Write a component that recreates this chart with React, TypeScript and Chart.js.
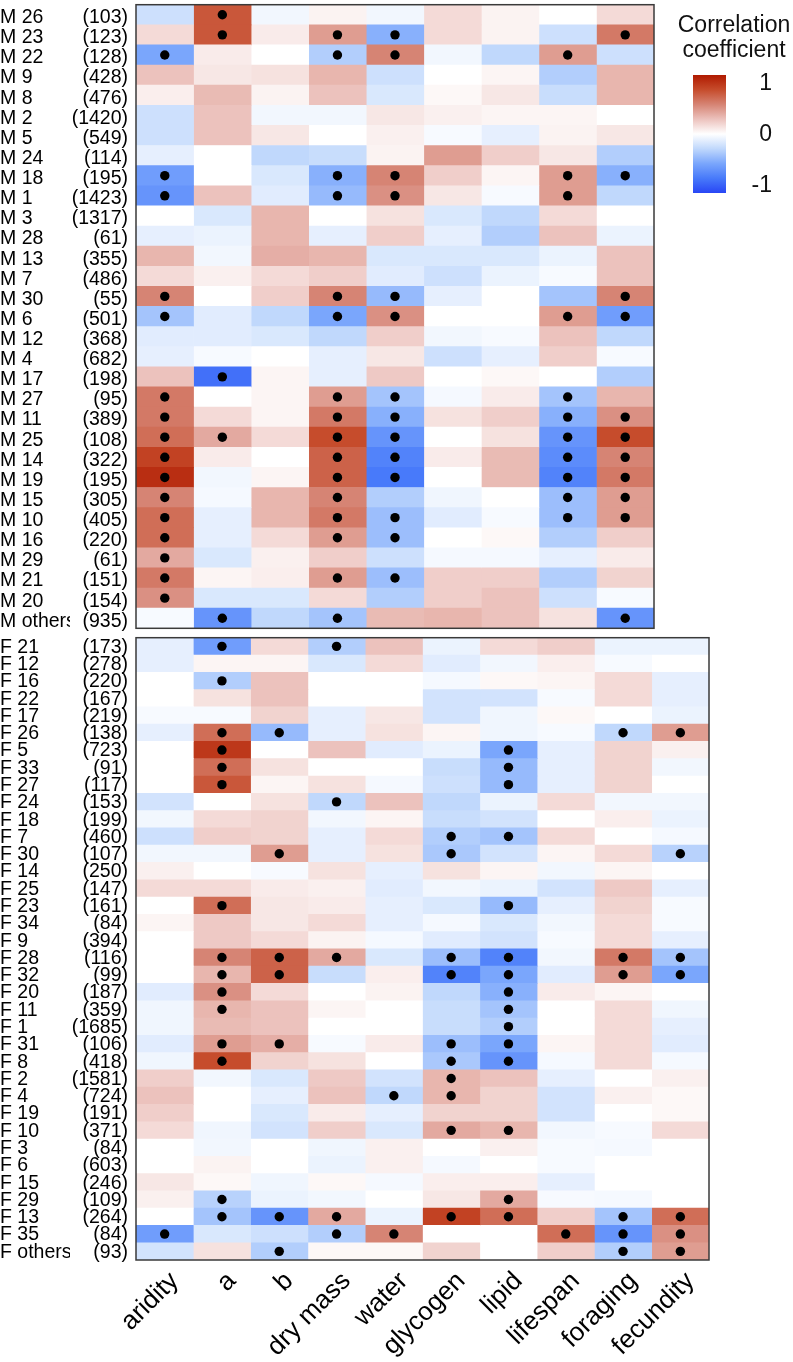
import React, { useEffect, useRef } from "react";
import { Chart, registerables } from "chart.js";

Chart.register(...registerables);

// ---------------- data ----------------
const M_COLUMNS = ["aridity", "a", "b", "dry mass", "water", "glycogen", "lipid", "lifespan", "foraging"];
const F_COLUMNS = ["aridity", "a", "b", "dry mass", "water", "glycogen", "lipid", "lifespan", "foraging", "fecundity"];

const M_NAMES = [
  "M 26", "M 23", "M 22", "M 9", "M 8", "M 2", "M 5", "M 24", "M 18", "M 1", "M 3",
  "M 28", "M 13", "M 7", "M 30", "M 6", "M 12", "M 4", "M 17", "M 27", "M 11", "M 25",
  "M 14", "M 19", "M 15", "M 10", "M 16", "M 29", "M 21", "M 20", "M others",
];
const M_COUNTS = [
  103, 123, 128, 428, 476, 1420, 549, 114, 195, 1423, 1317,
  61, 355, 486, 55, 501, 368, 682, 198, 95, 389, 108,
  322, 195, 305, 405, 220, 61, 151, 154, 935,
];
// rows follow M_NAMES, columns follow M_COLUMNS
const M_VALUES = [
  [-0.2, 0.7, -0.05, 0.05, -0.05, 0.15, 0.05, 0, 0.15],
  [0.15, 0.7, 0.08, 0.4, -0.45, 0.15, 0.05, -0.2, 0.55],
  [-0.5, 0.08, 0, -0.3, 0.5, -0.05, -0.25, 0.4, -0.2],
  [0.25, 0.1, 0.12, 0.3, -0.2, 0, 0.04, -0.3, 0.3],
  [0.07, 0.28, 0.05, 0.25, -0.15, 0.03, 0.1, -0.22, 0.3],
  [-0.2, 0.25, -0.05, -0.05, 0.1, 0.06, 0.04, 0.04, 0],
  [-0.2, 0.25, 0.1, 0, 0.06, -0.03, -0.1, 0.05, 0.1],
  [-0.1, 0, -0.25, -0.22, 0.05, 0.4, 0.2, 0.1, -0.3],
  [-0.55, 0, -0.15, -0.45, 0.5, 0.2, 0.04, 0.4, -0.45],
  [-0.6, 0.25, -0.12, -0.4, 0.45, 0.1, -0.03, 0.4, -0.25],
  [0, -0.15, 0.3, 0, 0.12, -0.15, -0.25, 0.15, 0],
  [-0.1, -0.08, 0.3, -0.1, 0.2, -0.1, -0.3, 0.25, -0.08],
  [0.3, -0.05, 0.33, 0.3, -0.15, -0.15, -0.15, -0.08, 0.25],
  [0.15, 0.06, 0.15, 0.2, -0.12, -0.2, -0.08, -0.03, 0.25],
  [0.5, 0, 0.2, 0.5, -0.4, -0.1, 0, -0.35, 0.5],
  [-0.35, -0.12, -0.25, -0.5, 0.45, 0, 0, 0.4, -0.55],
  [-0.12, -0.12, -0.15, -0.25, 0.2, -0.05, -0.03, 0.25, -0.25],
  [-0.1, -0.03, 0, -0.1, 0.1, -0.2, -0.1, 0.2, -0.03],
  [0.25, -0.8, 0.04, -0.1, 0.22, 0, 0.03, 0, -0.3],
  [0.55, 0, 0.04, 0.4, -0.35, -0.04, 0.08, -0.35, 0.3],
  [0.55, 0.15, 0.04, 0.55, -0.45, 0.12, 0.2, -0.45, 0.45],
  [0.6, 0.35, 0.15, 0.75, -0.6, 0, 0.12, -0.6, 0.75],
  [0.8, 0.08, 0, 0.65, -0.7, 0.08, 0.28, -0.65, 0.5],
  [0.9, -0.05, 0.04, 0.65, -0.75, 0, 0.28, -0.7, 0.55],
  [0.5, -0.04, 0.3, 0.5, -0.3, -0.06, 0, -0.38, 0.4],
  [0.6, -0.1, 0.3, 0.55, -0.38, -0.12, -0.03, -0.38, 0.4],
  [0.6, -0.1, 0.15, 0.4, -0.38, 0, 0.03, -0.3, 0.2],
  [0.35, -0.15, 0.06, 0.2, -0.2, -0.04, -0.04, -0.1, 0.08],
  [0.55, 0.04, 0.07, 0.4, -0.38, 0.2, 0.2, -0.3, 0.18],
  [0.45, -0.15, -0.15, 0.15, -0.3, 0.2, 0.25, -0.2, -0.03],
  [-0.03, -0.6, -0.25, -0.35, 0.28, 0.3, 0.25, 0.12, -0.6],
];
// significant cells: column indices per row
const M_SIG = [
  [1], [1, 3, 4, 8], [0, 3, 4, 7], [], [], [], [], [], [0, 3, 4, 7, 8], [0, 3, 4, 7], [],
  [], [], [], [0, 3, 4, 8], [0, 3, 4, 7, 8], [], [], [1], [0, 3, 4, 7], [0, 3, 4, 7, 8], [0, 1, 3, 4, 7, 8],
  [0, 3, 4, 7, 8], [0, 3, 4, 7, 8], [0, 3, 7, 8], [0, 3, 4, 7, 8], [0, 3, 4], [0], [0, 3, 4], [0], [1, 3, 8],
];

const F_NAMES = [
  "F 21", "F 12", "F 16", "F 22", "F 17", "F 26", "F 5", "F 33", "F 27", "F 24", "F 18", "F 7",
  "F 30", "F 14", "F 25", "F 23", "F 34", "F 9", "F 28", "F 32", "F 20", "F 11", "F 1", "F 31",
  "F 8", "F 2", "F 4", "F 19", "F 10", "F 3", "F 6", "F 15", "F 29", "F 13", "F 35", "F others",
];
const F_COUNTS = [
  173, 278, 220, 167, 219, 138, 723, 91, 117, 153, 199, 460,
  107, 250, 147, 161, 84, 394, 116, 99, 187, 359, 1685, 106,
  418, 1581, 724, 191, 371, 84, 603, 246, 109, 264, 84, 93,
];
// rows follow F_NAMES, columns follow F_COLUMNS
const F_VALUES = [
  [-0.1, -0.55, 0.15, -0.3, 0.25, -0.08, 0.15, 0.2, -0.08, -0.08],
  [-0.1, 0.04, 0.04, -0.15, 0.15, -0.12, -0.05, 0.07, -0.03, 0],
  [0, -0.3, 0.25, 0, 0, -0.04, 0.03, 0.04, 0.15, -0.1],
  [0, 0.12, 0.25, 0, 0, -0.18, -0.18, -0.03, 0.15, -0.1],
  [-0.03, -0.03, 0.18, -0.1, 0.1, -0.18, -0.06, 0.03, 0, -0.08],
  [-0.1, 0.6, -0.4, -0.1, 0.12, 0.04, -0.06, -0.03, -0.25, 0.4],
  [0, 0.85, 0, 0.25, -0.12, -0.08, -0.5, -0.1, 0.18, 0.06],
  [0, 0.6, 0.12, 0, 0, -0.22, -0.4, -0.1, 0.18, -0.05],
  [0, 0.7, 0.04, 0.12, -0.04, -0.2, -0.4, -0.1, 0.18, 0],
  [-0.18, 0, 0.12, -0.25, 0.25, -0.25, -0.08, 0.15, -0.05, -0.05],
  [-0.05, 0.15, 0.18, -0.05, 0.04, -0.22, -0.18, 0, 0.07, -0.08],
  [-0.2, 0.2, 0.18, -0.1, 0.15, -0.3, -0.35, 0.15, 0, -0.04],
  [-0.05, -0.05, 0.4, -0.1, 0.12, -0.33, -0.18, 0.04, 0.15, -0.28],
  [0.06, 0, -0.03, 0.12, -0.1, 0.12, 0.04, -0.05, 0.04, 0],
  [0.15, 0.15, 0.08, 0.06, -0.12, -0.05, -0.08, -0.18, 0.22, -0.1],
  [0, 0.6, 0.1, 0.08, -0.1, -0.15, -0.4, -0.1, 0.18, -0.03],
  [0.04, 0.22, 0.1, 0.15, -0.1, -0.04, -0.15, -0.05, 0.15, -0.03],
  [0, 0.22, 0.15, 0.05, -0.04, -0.12, -0.18, -0.03, 0.15, -0.1],
  [0, 0.5, 0.65, 0.35, -0.15, -0.38, -0.7, -0.05, 0.55, -0.35],
  [0, 0.3, 0.65, -0.22, 0.07, -0.7, -0.5, -0.12, 0.4, -0.5],
  [-0.12, 0.45, 0.15, 0, 0.05, -0.25, -0.45, 0.08, 0.04, 0],
  [-0.06, 0.3, 0.25, 0.04, 0, -0.22, -0.35, 0, 0.15, -0.06],
  [-0.06, 0.28, 0.25, 0, 0, -0.22, -0.3, 0, 0.15, -0.1],
  [-0.12, 0.4, 0.33, -0.03, 0.08, -0.38, -0.5, 0.04, 0.15, -0.12],
  [-0.06, 0.75, 0.18, 0.12, 0, -0.33, -0.6, -0.04, 0.15, -0.04],
  [0.2, -0.05, -0.15, 0.22, -0.18, 0.3, 0.25, -0.1, 0, 0.06],
  [0.25, 0, -0.1, 0.25, -0.25, 0.3, 0.18, -0.18, 0.06, 0.03],
  [0.2, 0, -0.15, 0.08, -0.1, 0.18, 0.18, -0.18, 0, 0.03],
  [0.15, -0.06, -0.18, 0.2, -0.15, 0.35, 0.3, -0.05, -0.03, 0.15],
  [0, -0.05, 0, -0.06, 0.06, 0, 0.06, -0.03, -0.04, 0],
  [0, 0.05, 0, -0.08, 0.06, -0.04, 0, -0.03, 0, 0],
  [0.1, 0.03, -0.06, 0.03, -0.04, 0.07, 0.07, -0.1, 0, 0],
  [0.06, -0.28, -0.08, -0.05, 0, 0.1, 0.35, -0.03, -0.04, 0],
  [0, -0.35, -0.6, 0.35, -0.08, 0.8, 0.6, 0.2, -0.35, 0.6],
  [-0.55, -0.15, -0.2, -0.3, 0.5, 0, 0, 0.6, -0.6, 0.45],
  [-0.18, 0.12, -0.3, 0.03, 0.03, 0.18, 0, 0.2, -0.3, 0.4],
];
const F_SIG = [
  [1, 3], [], [1], [], [], [1, 2, 8, 9], [1, 6], [1, 6], [1, 6], [3], [], [5, 6],
  [2, 5, 9], [], [], [1, 6], [], [], [1, 2, 3, 5, 6, 8, 9], [1, 2, 5, 6, 8, 9], [1, 6], [1, 6], [6], [1, 2, 5, 6],
  [1, 5, 6], [5], [4, 5], [], [5, 6], [], [], [], [1, 6], [1, 2, 3, 5, 6, 8, 9], [0, 3, 4, 7, 8, 9], [2, 8, 9],
];

const LEGEND_TITLE = ["Correlation", "coefficient"];
const LEGEND_TICKS = [1, 0, -1];

// diverging colour scale (value -> rgb)
const COLOR_STOPS: [number, number[]][] = [
  [-1, [40, 70, 245]],
  [-0.75, [72, 122, 250]],
  [-0.5, [122, 166, 252]],
  [-0.25, [192, 216, 252]],
  [0, [255, 255, 255]],
  [0.25, [236, 194, 189]],
  [0.5, [214, 132, 116]],
  [0.75, [198, 76, 44]],
  [1, [176, 26, 0]],
];

const FONT = '"Liberation Sans", Arial, Helvetica, sans-serif';

function colorFor(v: number): string {
  const t = Math.max(-1, Math.min(1, v));
  for (let i = 0; i < COLOR_STOPS.length - 1; i++) {
    const [v0, c0] = COLOR_STOPS[i];
    const [v1, c1] = COLOR_STOPS[i + 1];
    if (t >= v0 && t <= v1) {
      const f = (t - v0) / (v1 - v0);
      const c = c0.map((x, k) => Math.round(x + (c1[k] - x) * f));
      return `rgb(${c[0]},${c[1]},${c[2]})`;
    }
  }
  return "#fff";
}

const framePlugin = {
  id: "panelFrame",
  afterDatasetsDraw(chart: any) {
    const { ctx, chartArea: a } = chart;
    ctx.save();
    ctx.strokeStyle = "#3a3a3a";
    ctx.lineWidth = 1.5;
    ctx.strokeRect(a.left, a.top, a.right - a.left, a.bottom - a.top);
    ctx.restore();
  },
};

const colorbarPlugin = {
  id: "colorbar",
  afterDraw(chart: any) {
    const ctx = chart.ctx as CanvasRenderingContext2D;
    ctx.save();
    ctx.fillStyle = "#111";
    ctx.font = `23px ${FONT}`;
    ctx.textAlign = "center";
    ctx.textBaseline = "alphabetic";
    ctx.fillText(LEGEND_TITLE[0], 734, 32);
    ctx.fillText(LEGEND_TITLE[1], 734, 57);
    const top = 75, bottom = 193, left = 693, w = 33;
    const g = ctx.createLinearGradient(0, top, 0, bottom);
    COLOR_STOPS.forEach(([v, c]) => g.addColorStop((1 - v) / 2, `rgb(${c[0]},${c[1]},${c[2]})`));
    ctx.fillStyle = g;
    ctx.fillRect(left, top, w, bottom - top);
    ctx.fillStyle = "#111";
    ctx.font = `23px ${FONT}`;
    ctx.textAlign = "right";
    ctx.textBaseline = "middle";
    LEGEND_TICKS.forEach((v) => ctx.fillText(String(v), 772, 135 - v * 51));
    ctx.restore();
  },
};

function panelConfig(
  names: string[],
  counts: number[],
  values: number[][],
  sig: number[][],
  columns: string[],
  showX: boolean,
  padding: any,
  xHeight: number,
  labelShift: number,
  extraPlugins: any[]
): any {
  const datasets: any[] = columns.map((col, k) => ({
    type: "bar",
    label: col,
    data: values.map(() => [k, k + 1]),
    backgroundColor: values.map((row) => colorFor(row[k])),
    borderWidth: 0,
    grouped: false,
    barPercentage: 1,
    categoryPercentage: 1,
    xAxisID: "x",
    yAxisID: "y",
    order: 2,
  }));
  datasets.push({
    type: "scatter",
    label: "significant",
    data: sig.flatMap((cols, r) => cols.map((k) => ({ x: k + 0.5, y: names[r] }))),
    pointRadius: 4.7,
    pointHoverRadius: 4.7,
    pointBackgroundColor: "#000",
    pointBorderWidth: 0,
    xAxisID: "x",
    yAxisID: "y",
    order: 1,
  });

  const tickFont = { family: FONT, size: 19.5 };
  const scales: any = {
    x: { type: "linear", min: 0, max: columns.length, display: false },
    y: {
      type: "category",
      labels: names,
      offset: true,
      position: "left",
      weight: 0,
      grid: { display: false, drawTicks: false },
      border: { display: false },
      ticks: {
        autoSkip: false,
        padding: 8,
        crossAlign: "near",
        labelOffset: labelShift,
        color: "#000",
        font: tickFont,
        callback: (_v: any, i: number) => `(${counts[i]})`,
      },
      afterFit: (s: any) => {
        s.width = 66;
        s.paddingTop = 0;
        s.paddingBottom = 0;
      },
    },
    yName: {
      type: "category",
      labels: names,
      offset: true,
      position: "left",
      weight: 1,
      grid: { display: false, drawTicks: false },
      border: { display: false },
      ticks: {
        autoSkip: false,
        padding: 0,
        crossAlign: "far",
        labelOffset: labelShift,
        color: "#000",
        font: tickFont,
      },
      afterFit: (s: any) => {
        s.width = 70;
        s.paddingTop = 0;
        s.paddingBottom = 0;
      },
    },
  };
  if (showX) {
    scales.xLab = {
      type: "category",
      labels: columns,
      offset: true,
      position: "bottom",
      grid: { display: false, drawTicks: false },
      border: { display: false },
      ticks: {
        autoSkip: false,
        minRotation: 45,
        maxRotation: 45,
        padding: 6,
        labelOffset: 10,
        color: "#000",
        font: { family: FONT, size: 26 },
      },
      afterFit: (s: any) => {
        s.height = xHeight;
        s.paddingLeft = 0;
        s.paddingRight = 0;
      },
    };
  }

  return {
    type: "bar",
    data: { labels: names, datasets },
    options: {
      indexAxis: "y",
      responsive: false,
      animation: false,
      maintainAspectRatio: false,
      layout: { padding },
      plugins: { legend: { display: false }, tooltip: { enabled: false } },
      scales,
    },
    plugins: [framePlugin, ...extraPlugins],
  };
}

export default function App() {
  const topRef = useRef<HTMLCanvasElement>(null);
  const botRef = useRef<HTMLCanvasElement>(null);

  useEffect(() => {
    document.body.style.margin = "0";
    const top = new Chart(
      topRef.current as HTMLCanvasElement,
      panelConfig(M_NAMES, M_COUNTS, M_VALUES, M_SIG, M_COLUMNS, false,
        { top: 3, right: 139, bottom: 4, left: 0 }, 0, 3, [colorbarPlugin])
    );
    const bottom = new Chart(
      botRef.current as HTMLCanvasElement,
      panelConfig(F_NAMES, F_COUNTS, F_VALUES, F_SIG, F_COLUMNS, true,
        { top: 4, right: 84, bottom: 0, left: 0 }, 102, 1, [])
    );
    return () => {
      top.destroy();
      bottom.destroy();
    };
  }, []);

  return (
    <div style={{ position: "relative", width: 793, height: 1362, background: "#fff" }}>
      <canvas
        ref={topRef}
        width={793}
        height={633}
        style={{ position: "absolute", left: 0, top: 0, width: 793, height: 633 }}
      />
      <canvas
        ref={botRef}
        width={793}
        height={729}
        style={{ position: "absolute", left: 0, top: 633, width: 793, height: 729 }}
      />
    </div>
  );
}
